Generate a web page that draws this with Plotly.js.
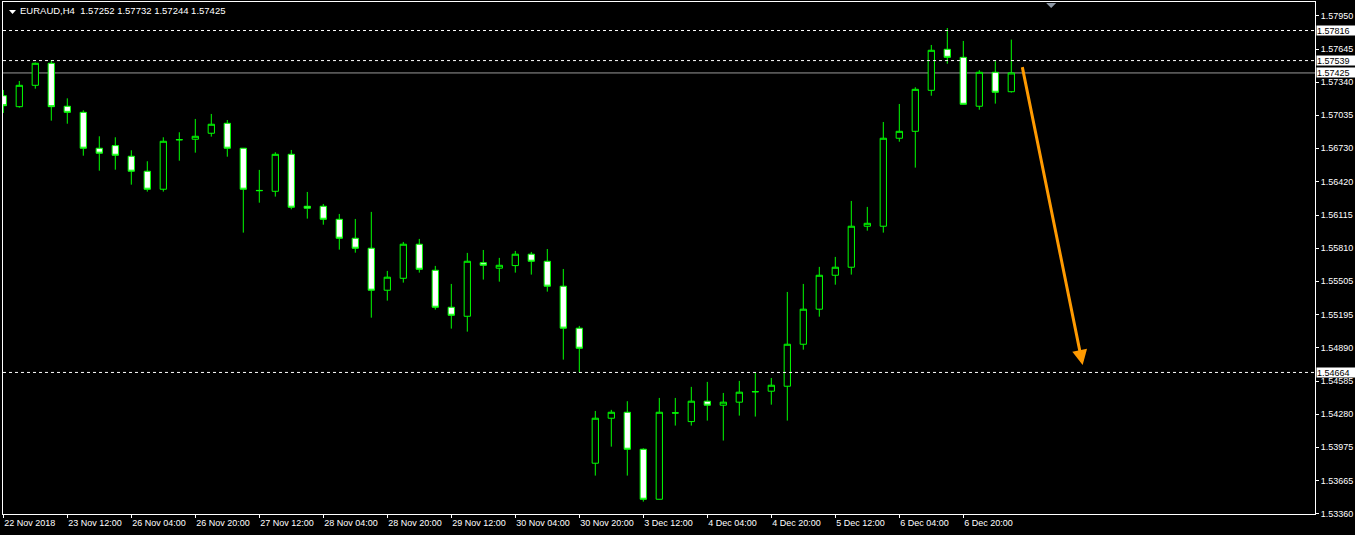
<!DOCTYPE html>
<html>
<head>
<meta charset="utf-8">
<script src="https://cdn.plot.ly/plotly-3.0.1.min.js"></script>
<style>
html,body{margin:0;padding:0;background:#000;}
#chart{width:1355px;height:535px;}
</style>
</head>
<body>
<div id="chart"></div>
<script>
// ---- data (EURAUD, H4) ----
const symbolTitle = "EURAUD,H4";
const lastBar = [1.57252, 1.57732, 1.57244, 1.57425]; // O H L C shown in header

const openP = [1.57215,1.57114,1.57311,1.57514,1.57118,1.57062,1.56731,1.56755,1.56657,1.56519,
  1.56353,1.56808,1.56814,1.56869,1.56961,1.56731,1.56342,1.56334,1.56675,1.56196,
  1.56196,1.56076,1.55901,1.55809,1.55422,1.55532,1.55846,1.55606,1.55265,1.55182,
  1.55676,1.55625,1.55649,1.55754,1.55689,1.55459,1.55072,1.53827,1.54242,1.54297,
  1.53956,1.53495,1.54290,1.54211,1.54399,1.54362,1.54390,1.54485,1.54491,1.54537,
  1.54924,1.55247,1.55560,1.55634,1.56012,1.56012,1.56823,1.56887,1.57265,1.57643,
  1.57569,1.57118,1.57431,1.57252];
const highP = [1.57268,1.57351,1.57521,1.57544,1.57191,1.57081,1.56841,1.56832,1.56712,1.56611,
  1.56832,1.56878,1.57001,1.57047,1.56991,1.56733,1.56531,1.56694,1.56715,1.56328,
  1.56217,1.56125,1.56079,1.56144,1.55600,1.55867,1.55895,1.55646,1.55480,1.55766,
  1.55793,1.55720,1.55784,1.55775,1.55802,1.55618,1.55093,1.54309,1.54319,1.54399,
  1.53965,1.54429,1.54429,1.54531,1.54577,1.54475,1.54586,1.54660,1.54613,1.55406,
  1.55480,1.55637,1.55729,1.56245,1.56190,1.56973,1.57139,1.57293,1.57683,1.57839,
  1.57720,1.57450,1.57533,1.57732];
const lowP = [1.57056,1.57105,1.57280,1.56985,1.56957,1.56662,1.56524,1.56533,1.56395,1.56331,
  1.56331,1.56616,1.56690,1.56838,1.56653,1.55953,1.56229,1.56285,1.56168,1.56082,
  1.56026,1.55796,1.55768,1.55169,1.55326,1.55492,1.55584,1.55243,1.55068,1.55040,
  1.55520,1.55501,1.55584,1.55566,1.55409,1.54782,1.54666,1.53713,1.53980,1.53713,
  1.53473,1.53493,1.54174,1.54174,1.54220,1.54036,1.54266,1.54257,1.54367,1.54220,
  1.54874,1.55178,1.55473,1.55566,1.55971,1.55953,1.56791,1.56552,1.57215,1.57510,
  1.57134,1.57086,1.57142,1.57244];
const closeP = [1.57123,1.57311,1.57514,1.57114,1.57062,1.56731,1.56685,1.56666,1.56519,1.56353,
  1.56795,1.56810,1.56841,1.56952,1.56731,1.56353,1.56340,1.56675,1.56187,1.56178,
  1.56076,1.55901,1.55809,1.55422,1.55542,1.55846,1.55615,1.55265,1.55191,1.55689,
  1.55652,1.55652,1.55754,1.55689,1.55459,1.55072,1.54887,1.54242,1.54297,1.53956,
  1.53495,1.54297,1.54291,1.54399,1.54362,1.54390,1.54482,1.54487,1.54546,1.54924,
  1.55247,1.55560,1.55634,1.56012,1.56039,1.56823,1.56887,1.57274,1.57634,1.57569,
  1.57136,1.57431,1.57247,1.57425];

// time-axis labels (every 4th bar)
const timeTickBars = [0,4,8,12,16,20,24,28,32,36,40,44,48,52,56,60];
const timeTickLabels = ["22 Nov 2018","23 Nov 12:00","26 Nov 04:00","26 Nov 20:00","27 Nov 12:00",
  "28 Nov 04:00","28 Nov 20:00","29 Nov 12:00","30 Nov 04:00","30 Nov 20:00","3 Dec 12:00",
  "4 Dec 04:00","4 Dec 20:00","5 Dec 12:00","6 Dec 04:00","6 Dec 20:00"];

// price scale labels
const priceTicks = [1.57950,1.57645,1.57340,1.57035,1.56730,1.56420,1.56115,1.55810,
  1.55505,1.55195,1.54890,1.54585,1.54280,1.53975,1.53665,1.53360];

// horizontal levels
const dashedLevels = [1.57816, 1.57539, 1.54664];
const bidLevel = 1.57425;

// forecast arrow: [barFrom, priceFrom] -> [barTo, priceTo]
const arrowFrom = [63.67, 1.57492];
const arrowTo = [67.46, 1.54733];

// ---- build ----
const barIdx = openP.map((_, i) => i);
const GREEN = '#00ff00';

const traces = [{
  type: 'candlestick',
  x: barIdx, open: openP, high: highP, low: lowP, close: closeP,
  increasing: {line: {color: GREEN, width: 1}, fillcolor: '#000000'},
  decreasing: {line: {color: GREEN, width: 1}, fillcolor: '#ffffff'},
  whiskerwidth: 0,
  hoverinfo: 'skip',
  showlegend: false
}];

const shapes = [];
dashedLevels.forEach(v => shapes.push({
  type: 'line', xref: 'paper', x0: 0, x1: 1, yref: 'y', y0: v, y1: v,
  line: {color: '#ffffff', width: 1, dash: '3px,3px'}, layer: 'above'
}));
shapes.push({
  type: 'line', xref: 'paper', x0: 0, x1: 1, yref: 'y', y0: bidLevel, y1: bidLevel,
  line: {color: '#9a9a9a', width: 1}, layer: 'below'
});
// chart-shift marker at top
shapes.push({
  type: 'path', xref: 'paper', yref: 'paper', xsizemode: 'pixel', ysizemode: 'pixel',
  xanchor: 0.7989, yanchor: 1, path: 'M-5,-1 L5,-1 L0,-6 Z',
  fillcolor: '#8c96a3', line: {width: 0}
});
// header drop-down triangle
shapes.push({
  type: 'path', xref: 'paper', yref: 'paper', xsizemode: 'pixel', ysizemode: 'pixel',
  xanchor: 6/1312, yanchor: 1, path: 'M0,-8 L7,-8 L3.5,-12 Z',
  fillcolor: '#ffffff', line: {width: 0}
});

const annotations = [];
// header
annotations.push({
  xref: 'paper', yref: 'paper', x: 15/1312, y: 1 - 8/512, xanchor: 'left', yanchor: 'middle',
  text: symbolTitle + '  ' + lastBar.map(v => v.toFixed(5)).join(' '),
  showarrow: false, font: {family: 'Liberation Sans, Arial, sans-serif', size: 9.5, color: '#ffffff'}
});
// price-scale labels for levels
dashedLevels.concat([bidLevel]).forEach(v => annotations.push({
  xref: 'paper', yref: 'y', x: 1, y: v, xanchor: 'left', yanchor: 'middle', xshift: 1,
  text: v.toFixed(5), showarrow: false, bgcolor: '#ffffff', borderpad: 0,
  width: 38, height: 9, align: 'left',
  font: {family: 'Liberation Sans, Arial, sans-serif', size: 9, color: '#000000'}
}));
// orange arrow
annotations.push({
  xref: 'x', yref: 'y', axref: 'x', ayref: 'y',
  x: arrowTo[0], y: arrowTo[1], ax: arrowFrom[0], ay: arrowFrom[1],
  text: '', showarrow: true, arrowhead: 2, arrowsize: 1, arrowwidth: 3,
  arrowcolor: '#ff9a00', standoff: 0
});

const tickFont = {family: 'Liberation Sans, Arial, sans-serif', size: 9, color: '#ffffff'};

const layout = {
  width: 1355, height: 535,
  paper_bgcolor: '#000000', plot_bgcolor: '#000000',
  margin: {l: 3, r: 40, t: 2, b: 21, pad: 0},
  showlegend: false,
  boxgap: 0.44,
  xaxis: {
    range: [-0.019, 81.981], rangeslider: {visible: false},
    tickmode: 'array', tickvals: timeTickBars, ticktext: timeTickLabels,
    ticks: 'outside', ticklen: 3, tickcolor: '#ffffff', tickwidth: 1,
    ticklabelposition: 'outside right',
    tickfont: tickFont,
    showgrid: false, zeroline: false,
    showline: true, mirror: true, linecolor: '#ffffff', linewidth: 1,
    fixedrange: true
  },
  yaxis: {
    side: 'right', range: [1.53359, 1.58079],
    tickmode: 'array', tickvals: priceTicks, ticktext: priceTicks.map(v => v.toFixed(5)),
    ticks: 'outside', ticklen: 3, tickcolor: '#ffffff', tickwidth: 1,
    tickfont: tickFont,
    showgrid: false, zeroline: false,
    showline: true, mirror: true, linecolor: '#ffffff', linewidth: 1,
    fixedrange: true
  },
  shapes: shapes,
  annotations: annotations
};

Plotly.newPlot('chart', traces, layout, {displayModeBar: false, staticPlot: true});
</script>
</body>
</html>
